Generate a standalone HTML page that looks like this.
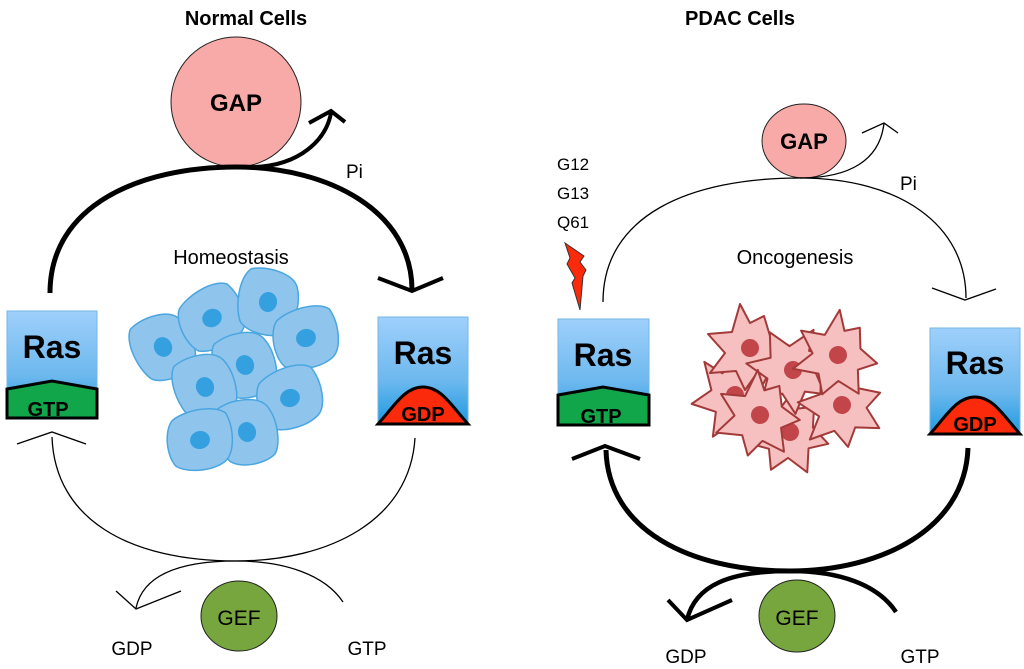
<!DOCTYPE html>
<html><head><meta charset="utf-8"><style>
html,body{margin:0;padding:0;background:#fff;}
svg{display:block;}
text{font-family:"Liberation Sans","DejaVu Sans",sans-serif;}
</style></head><body>
<svg width="1024" height="669" viewBox="0 0 1024 669" xmlns="http://www.w3.org/2000/svg">
<defs>
<linearGradient id="rg" x1="0" y1="0" x2="0" y2="1">
<stop offset="0" stop-color="#9fd0fb"/><stop offset="0.6" stop-color="#6cb8ee"/><stop offset="1" stop-color="#1e9ae0"/>
</linearGradient>
<g id="bcell">
<path d="M-22,-30 C-5,-36 20,-32 26,-20 C33,-5 30,18 22,28 C10,36 -15,34 -24,24 C-32,10 -33,-20 -22,-30 Z" fill="#8fc4ec" stroke="#4aa6e0" stroke-width="1.5"/>
<ellipse cx="0" cy="0" rx="9" ry="10" fill="#35a0e0"/>
</g>
<g id="rcell">
<path d="M-10,-44 L0,-25 L14,-32 L20,-12 L40,-2 L23,9 L30,32 L7,25 L-5,42 L-14,23 L-40,25 L-25,5 L-42,-14 L-18,-16 Z" fill="#f7c0c0" stroke="#a33a3a" stroke-width="2" stroke-linejoin="round"/>
<circle cx="0" cy="0" r="9" fill="#c2454a"/>
</g>
</defs>

<!-- LEFT PANEL -->
<text x="246" y="25" font-size="20" font-weight="bold" text-anchor="middle">Normal Cells</text>
<circle cx="236" cy="102" r="65" fill="#f7aaa7" stroke="#222" stroke-width="1"/>
<text x="236" y="111" font-size="24" font-weight="bold" text-anchor="middle">GAP</text>
<path d="M50,293 C50,205 140,167 236,167 C330,167 412,212 412,290" fill="none" stroke="#000" stroke-width="5"/>
<path d="M378,278 L412,291 L443,278" fill="none" stroke="#000" stroke-width="4"/>
<path d="M255,167 C300,165 326,140 331,113" fill="none" stroke="#000" stroke-width="4"/>
<path d="M309,123 L331,111 L345,122" fill="none" stroke="#000" stroke-width="4"/>
<text x="346" y="178" font-size="19">Pi</text>
<text x="231" y="264" font-size="20" text-anchor="middle">Homeostasis</text>

<rect x="7" y="311" width="90" height="108" fill="url(#rg)" stroke="#74b6e6" stroke-width="1"/>
<text x="52" y="358" font-size="32" font-weight="bold" text-anchor="middle">Ras</text>
<path d="M7,389 L52,381 L97,389 L97,418 L7,418 Z" fill="#12a64a" stroke="#000" stroke-width="3"/>
<text x="48" y="416" font-size="20" font-weight="bold" text-anchor="middle">GTP</text>

<rect x="378" y="317" width="90" height="107" fill="url(#rg)" stroke="#74b6e6" stroke-width="1"/>
<text x="423" y="364" font-size="32" font-weight="bold" text-anchor="middle">Ras</text>
<path d="M378,424 C395,405 405,387 423,387 C441,387 451,405 468,424 Z" fill="#fa2a0a" stroke="#000" stroke-width="3"/>
<text x="423" y="421" font-size="20" font-weight="bold" text-anchor="middle">GDP</text>

<use href="#bcell" transform="translate(163,347) rotate(-25)"/>
<use href="#bcell" transform="translate(212,318) rotate(60)"/>
<use href="#bcell" transform="translate(268,302) rotate(10)"/>
<use href="#bcell" transform="translate(306,338) rotate(75)"/>
<use href="#bcell" transform="translate(245,365) rotate(-20)"/>
<use href="#bcell" transform="translate(205,387) rotate(-20)"/>
<use href="#bcell" transform="translate(290,398) rotate(70)"/>
<use href="#bcell" transform="translate(247,432) rotate(-15)"/>
<use href="#bcell" transform="translate(200,440) rotate(80)"/>

<path d="M415,438 C410,520 330,561 236,561 C130,561 55,520 52,437" fill="none" stroke="#000" stroke-width="1.3"/>
<path d="M17,444 L52,432 L86,444" fill="none" stroke="#000" stroke-width="1.3"/>
<path d="M343,602 C325,575 285,561 236,561 C180,561 143,575 136,608" fill="none" stroke="#000" stroke-width="1.3"/>
<path d="M116,591 L136,609 L181,591" fill="none" stroke="#000" stroke-width="1.3"/>
<ellipse cx="239" cy="616" rx="38" ry="35" fill="#77a53e" stroke="#222" stroke-width="1"/>
<text x="239" y="625" font-size="21" text-anchor="middle">GEF</text>
<text x="132" y="655" font-size="19" text-anchor="middle">GDP</text>
<text x="367" y="655" font-size="19" text-anchor="middle">GTP</text>

<!-- RIGHT PANEL -->
<text x="740" y="25" font-size="20" font-weight="bold" text-anchor="middle">PDAC Cells</text>
<ellipse cx="804" cy="141" rx="42" ry="37" fill="#f7aaa7" stroke="#222" stroke-width="1"/>
<text x="804" y="149" font-size="22" font-weight="bold" text-anchor="middle">GAP</text>
<path d="M603,302 C603,215 690,178 800,178 C900,178 966,225 966,298" fill="none" stroke="#000" stroke-width="1.3"/>
<path d="M932,288 L965,300 L996,289" fill="none" stroke="#000" stroke-width="1.3"/>
<path d="M800,178 C850,178 880,160 884,123" fill="none" stroke="#000" stroke-width="1.3"/>
<path d="M862,133 L884,123 L898,133" fill="none" stroke="#000" stroke-width="1.3"/>
<text x="900" y="190" font-size="19">Pi</text>
<text x="557" y="170" font-size="17">G12</text>
<text x="557" y="199" font-size="17">G13</text>
<text x="557" y="228" font-size="17">Q61</text>
<polygon points="565,243 584,256 580,262 586,270 583,276 580,310 572,283 575,278 567,264 570,258" fill="#fb2a0a" stroke="#333" stroke-width="1"/>
<text x="795" y="264" font-size="20" text-anchor="middle">Oncogenesis</text>

<rect x="558" y="319" width="91" height="106" fill="url(#rg)" stroke="#74b6e6" stroke-width="1"/>
<text x="603" y="366" font-size="32" font-weight="bold" text-anchor="middle">Ras</text>
<path d="M558,395 L603,387 L649,395 L649,425 L558,425 Z" fill="#12a64a" stroke="#000" stroke-width="3"/>
<text x="601" y="423" font-size="20" font-weight="bold" text-anchor="middle">GTP</text>

<rect x="930" y="328" width="90" height="107" fill="url(#rg)" stroke="#74b6e6" stroke-width="1"/>
<text x="975" y="374" font-size="32" font-weight="bold" text-anchor="middle">Ras</text>
<path d="M930,434 C947,415 957,397 975,397 C993,397 1003,415 1020,434 Z" fill="#fa2a0a" stroke="#000" stroke-width="3"/>
<text x="975" y="431" font-size="20" font-weight="bold" text-anchor="middle">GDP</text>

<use href="#rcell" transform="translate(735,395) rotate(-30)"/>
<use href="#rcell" transform="translate(790,432) rotate(20)"/>
<use href="#rcell" transform="translate(750,348)"/>
<use href="#rcell" transform="translate(793,370) rotate(40)"/>
<use href="#rcell" transform="translate(842,405) rotate(-15)"/>
<use href="#rcell" transform="translate(838,355) rotate(15)"/>
<use href="#rcell" transform="translate(760,415) rotate(10)"/>

<path d="M968,448 C965,530 880,571 790,571 C690,571 608,530 606,450" fill="none" stroke="#000" stroke-width="5"/>
<path d="M572,459 L605,446 L640,459" fill="none" stroke="#000" stroke-width="4"/>
<path d="M896,612 C878,585 840,571 790,571 C730,571 695,585 687,620" fill="none" stroke="#000" stroke-width="4.5"/>
<path d="M668,600 L687,620 L732,600" fill="none" stroke="#000" stroke-width="4"/>
<ellipse cx="797" cy="616" rx="38" ry="36" fill="#77a53e" stroke="#222" stroke-width="1"/>
<text x="797" y="625" font-size="21" text-anchor="middle">GEF</text>
<text x="686" y="663" font-size="19" text-anchor="middle">GDP</text>
<text x="920" y="663" font-size="19" text-anchor="middle">GTP</text>
</svg>
</body></html>
